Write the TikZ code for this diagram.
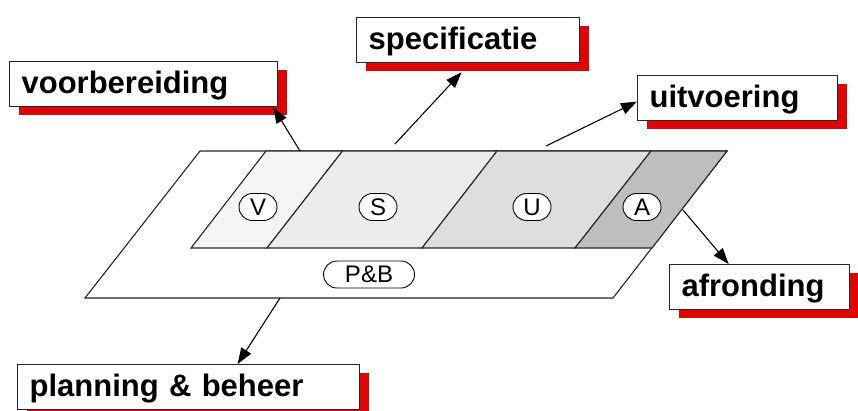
\documentclass[tikz,border=0pt]{standalone}
\usepackage{fontspec}
\setmainfont{Liberation Sans}
\usetikzlibrary{arrows.meta,shadows,shapes.misc}

\definecolor{shadowred}{RGB}{221,6,6}
\definecolor{fillV}{RGB}{245,245,245}
\definecolor{fillS}{RGB}{236,236,236}
\definecolor{fillU}{RGB}{222,222,222}
\definecolor{fillA}{RGB}{190,190,190}

\tikzset{
  edge/.style={draw=black!85, line width=1.1pt, line join=miter},
  labelbox/.style={draw=black!85, line width=1.2pt, fill=white,
    anchor=north west, minimum height=45pt, inner xsep=12pt, inner ysep=0pt,
    text height=23pt, text depth=5pt, align=left,
    font=\fontsize{31}{31}\selectfont\bfseries,
    drop shadow={shadow xshift=9pt, shadow yshift=-8pt, fill=shadowred,
      draw=none, opacity=1}},
  tag/.style={draw=black, line width=0.9pt, fill=white, rounded rectangle,
    minimum width=40pt, minimum height=27pt, inner sep=1pt,
    font=\fontsize{24}{24}\selectfont},
  pointer/.style={draw=black, line width=1.1pt,
    -{Triangle[length=16pt,width=11.5pt]}}
}

\begin{document}
\begin{tikzpicture}[x=1pt,y=-1pt]
\useasboundingbox (0,0) rectangle (858,410);

% outer plane: planning & beheer
\path[edge, fill=white] (200,151) -- (727,151) -- (613,298) -- (85,298) -- cycle;

% phase strip
\path[edge, fill=fillV] (266,151) -- (342.5,151) -- (267,248) -- (191,248) -- cycle;
\path[edge, fill=fillS] (342.5,151) -- (497,151) -- (422,248) -- (267,248) -- cycle;
\path[edge, fill=fillU] (497,151) -- (651,151) -- (575,248) -- (422,248) -- cycle;
\path[edge, fill=fillA] (651,151) -- (727,151) -- (652,248) -- (575,248) -- cycle;

% phase tags
\node[tag] (tV) at (258,207) {V};
\node[tag] (tS) at (378,207) {S};
\node[tag] (tU) at (532,207) {U};
\node[tag] (tA) at (642,207) {A};
\node[tag, minimum width=93pt] (tPB) at (369,274.5) {P\&B};

% label boxes
\node[labelbox, minimum width=268pt, text width=244pt] (vb) at (9,61) {voorbereiding};
\node[labelbox, minimum width=223pt, text width=199pt] (sp) at (356,17) {specificatie};
\node[labelbox, minimum width=200pt, text width=176pt] (ui) at (637,75) {uitvoering};
\node[labelbox, minimum width=180pt, text width=156pt] (af) at (669,264) {afronding};
\node[labelbox, minimum width=342pt, text width=318pt] (pb) at (17,364) {planning \& beheer};

% arrow origins on the plane
\coordinate (oV) at (300,151);
\coordinate (oS) at (395,144);
\coordinate (oU) at (546,146);
\coordinate (oA) at (683,210);
\coordinate (oPB) at (280,298);

% pointers to the labels
\draw[pointer] (oV) -- ([xshift=-5pt]vb.south east);
\draw[pointer] (oS) -- ([xshift=-6.5pt,yshift=-9pt]sp.south);
\draw[pointer] (oU) -- ([yshift=-3.5pt]ui.west);
\draw[pointer] (oA) -- ([xshift=-31pt]af.north);
\draw[pointer] (oPB) -- ([xshift=49pt]pb.north);
\end{tikzpicture}
\end{document}
